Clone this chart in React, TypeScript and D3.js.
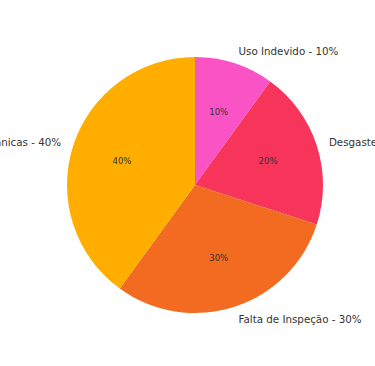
import React from "react";
import * as d3 from "d3";

const categories = ["Uso Indevido", "Desgaste", "Falta de Inspeção", "Falhas Mecânicas"];
const values = [10, 20, 30, 40];
const colors = ["#f953c6", "#f7345a", "#f26b21", "#ffae00"];

export default function App() {
  const W = 375, H = 366;
  const cx = 195, cy = 185, r = 128;
  const pie = d3.pie<number>().sort(null).value((d) => d)(values);
  const arc = d3.arc<d3.PieArcDatum<number>>().innerRadius(0).outerRadius(r);
  const total = d3.sum(values);
  return (
    <svg width={W} height={H} style={{ position: "absolute", left: 0, top: 0 }} fontFamily="'DejaVu Sans', sans-serif">
      <rect width={W} height={H} fill="#fff" />
      <g transform={`translate(${cx},${cy})`}>
        {pie.map((p, i) => (
          <path key={i} d={arc(p) || ""} fill={colors[i]} />
        ))}
        {pie.map((p, i) => {
          const a = (p.startAngle + p.endAngle) / 2;
          const ix = 0.6 * r * Math.sin(a), iy = -0.6 * r * Math.cos(a);
          const ox = 1.1 * r * Math.sin(a), oy = -1.1 * r * Math.cos(a);
          const pct = Math.round((values[i] / total) * 100);
          return (
            <g key={"t" + i}>
              <text x={ix} y={iy} textAnchor="middle" dominantBaseline="central" fontSize={8.5} fill="#333">
                {pct}%
              </text>
              <text x={ox} y={oy} textAnchor={ox >= 0 ? "start" : "end"} dominantBaseline="central" fontSize={10.3} fill="#333">
                {categories[i]} - {pct}%
              </text>
            </g>
          );
        })}
      </g>
    </svg>
  );
}
